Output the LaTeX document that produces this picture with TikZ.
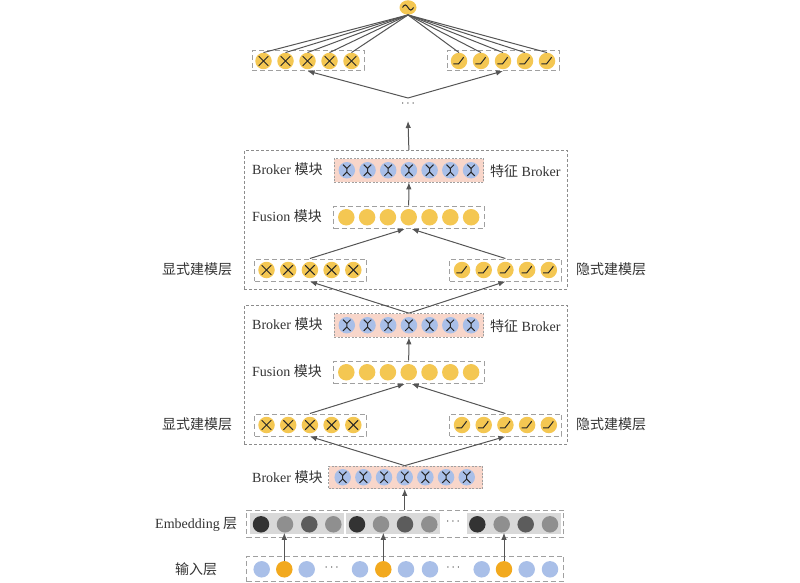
\documentclass[tikz,border=0pt]{standalone}
\usepackage{fontspec}
\setmainfont{Liberation Serif}
\newfontfamily\cjk{Noto Sans CJK SC}
\usetikzlibrary{arrows.meta,shapes.geometric}
\definecolor{cy}{HTML}{F4C752}
\definecolor{cb}{HTML}{A9BFE8}
\definecolor{co}{HTML}{F2A91E}
\definecolor{cp}{HTML}{F8D6CA}
\definecolor{cg}{HTML}{A0A0A0}
\definecolor{cgb}{HTML}{8C8C8C}
\definecolor{ca}{HTML}{555555}
\definecolor{ct}{HTML}{333333}
\definecolor{cl}{HTML}{D9D9D9}
\definecolor{ek}{HTML}{333333}
\definecolor{em}{HTML}{8F8F8F}
\definecolor{ed}{HTML}{5C5C5C}
\tikzset{
  circ/.style={circle, minimum size=16.5pt, inner sep=0pt, draw=none},
  yc/.style={circ, fill=cy},
  bc/.style={circ, fill=cb},
  oc/.style={circ, fill=co},
  rowbox/.style={draw=cg, dash pattern=on 5pt off 3pt, line width=1pt, inner sep=0pt},
  bigbox/.style={draw=cgb, dash pattern=on 3pt off 2pt, line width=0.8pt, inner sep=0pt},
  brokerbox/.style={fill=cp, draw=cg, dash pattern=on 2pt off 1.5pt, line width=0.7pt, inner sep=0pt},
  grp/.style={fill=cl, draw=none, inner sep=0pt, minimum width=94pt, minimum height=21pt},
  arr/.style={draw=ca, line width=1pt, -{Latex[length=7pt,width=5.5pt]}},
  ln/.style={draw=ca, line width=1pt},
  lbl/.style={font=\fontsize{14}{16}\selectfont, text=ct, inner sep=0pt, anchor=west},
  dotsn/.style={font=\fontsize{12}{14}\selectfont, text=ct, inner sep=0pt},
  ico/.style={line width=1pt, draw=black!85},
  xic/.style={path picture={
    \path (path picture bounding box.center) coordinate (pc);
    \draw[ico] (pc) ++(-4.8pt,-4.8pt) -- ++(9.6pt,9.6pt);
    \draw[ico] (pc) ++(-4.8pt,4.8pt) -- ++(9.6pt,-9.6pt);}},
  ric/.style={path picture={
    \path (path picture bounding box.center) coordinate (pc);
    \draw[ico] (pc) ++(-5.6pt,-2.8pt) -- ++(5.2pt,0pt) -- ++(4.4pt,5.6pt) -- ++(0.4pt,1.2pt);}},
  bic/.style={path picture={
    \path (path picture bounding box.center) coordinate (pc);
    \draw[ico] (pc) ++(-3.8pt,5.6pt) -- ++(3.8pt,-3.8pt) -- ++(0pt,-3.6pt) -- ++(-3.8pt,-3.8pt);
    \draw[ico] (pc) ++(3.8pt,5.6pt) -- ++(-3.8pt,-3.8pt);
    \draw[ico] (pc) ++(0pt,-1.8pt) -- ++(3.8pt,-3.8pt);}},
  sic/.style={path picture={
    \path (path picture bounding box.center) coordinate (pc);
    \draw[ico] (pc) ++(-5.5pt,0pt) sin ++(2.75pt,2.6pt) cos ++(2.75pt,-2.6pt) sin ++(2.75pt,-2.6pt) cos ++(2.75pt,2.6pt);}}
}
\begin{document}
\begin{tikzpicture}[x=1pt,y=-1pt]
\useasboundingbox (0,0) rectangle (800,583);

% ---------- top output ----------
\node[ellipse, fill=cy, minimum width=17pt, minimum height=14.5pt, inner sep=0pt, sic] (T) at (408,7.5) {};
\node[rowbox, minimum width=112pt, minimum height=19.5pt] (t-eb) at (308,60.75) {};
\node[rowbox, minimum width=112pt, minimum height=19.5pt] (t-ib) at (503,60.75) {};
\foreach \i in {1,...,5}{
  \node[yc,xic] (t-e\i) at ({263.5+(\i-1)*22},61) {};
  \node[yc,ric] (t-i\i) at ({459+(\i-1)*22},61) {};
}
\foreach \i in {1,...,5}{
  \draw[ln] (T.south) -- (t-e\i.north);
  \draw[ln] (T.south) -- (t-i\i.north);
}
\node[dotsn] (D) at (408,104) {$\cdots$};
\coordinate (dtop) at (408,98);
\coordinate (dbot) at (408,121);
\draw[arr] (dtop) -- (t-e3 |- t-eb.south);
\draw[arr] (dtop) -- (t-i3 |- t-ib.south);

% ---------- two modules ----------
\foreach \m/\dy in {U/-155,L/0}{
  \node[bigbox, minimum width=323pt, minimum height=138.5pt] (\m-box) at (405.5,{374.75+\dy}) {};
  \node[brokerbox, minimum width=149.5pt, minimum height=23.5pt] (\m-bb) at (408.75,{325.25+\dy}) {};
  \node[rowbox, minimum width=150.5pt, minimum height=22.5pt] (\m-fb) at (408.75,{372.25+\dy}) {};
  \node[rowbox, minimum width=112pt, minimum height=22pt] (\m-eb) at (310.5,{425+\dy}) {};
  \node[rowbox, minimum width=112pt, minimum height=22pt] (\m-ib) at (505.5,{425+\dy}) {};
  \foreach \i in {1,...,7}{
    \node[bc,bic] (\m-b\i) at ({346.8+(\i-1)*20.7},{325.25+\dy}) {};
    \node[yc] (\m-f\i) at ({346.3+(\i-1)*20.8},{372.25+\dy}) {};
  }
  \foreach \i in {1,...,5}{
    \node[yc,xic] (\m-e\i) at ({266.5+(\i-1)*21.7},{425+\dy}) {};
    \node[yc,ric] (\m-i\i) at ({462+(\i-1)*21.7},{425+\dy}) {};
  }
  \node[lbl] (\m-l1) at (252,{324+\dy}) {Broker {\cjk 模块}};
  \node[lbl] (\m-l2) at (252,{371+\dy}) {Fusion {\cjk 模块}};
  \node[lbl] (\m-l3) at (162,{424.5+\dy}) {\cjk 显式建模层};
  \node[lbl] (\m-l4) at (490,{326+\dy}) {{\cjk 特征} Broker};
  \node[lbl] (\m-l5) at (576,{424+\dy}) {\cjk 隐式建模层};
  \draw[arr] (\m-e3 |- \m-eb.north) -- ([xshift=-4pt]\m-f4.center |- \m-fb.south);
  \draw[arr] (\m-i3 |- \m-ib.north) -- ([xshift=3pt]\m-f4.center |- \m-fb.south);
  \draw[arr] (\m-f4 |- \m-fb.north) -- (\m-b4 |- \m-bb.south);
}
\draw[arr] (L-b4 |- L-bb.north) -- (U-e3 |- U-eb.south);
\draw[arr] (L-b4 |- L-bb.north) -- (U-i3 |- U-ib.south);
\draw[arr] (U-b4 |- U-box.north) -- (dbot);

% ---------- bottom broker ----------
\node[brokerbox, minimum width=154pt, minimum height=22.5pt] (B-bb) at (405.5,477.25) {};
\foreach \i in {1,...,7}{
  \node[bc,bic] (B-b\i) at ({342.7+(\i-1)*20.67},477.25) {};
}
\node[lbl] (B-l) at (252,477.5) {Broker {\cjk 模块}};
\draw[arr] (B-b4 |- B-bb.north) -- (L-e3 |- L-eb.south);
\draw[arr] (B-b4 |- B-bb.north) -- (L-i3 |- L-ib.south);

% ---------- embedding ----------
\node[rowbox, minimum width=316.6pt, minimum height=27.7pt] (E-box) at (405,523.85) {};
\node[grp] (E-g1) at (297,523.8) {};
\node[grp] (E-g2) at (393,523.8) {};
\node[grp] (E-g3) at (513.7,523.8) {};
\foreach \x/\c [count=\i] in {261/ek,285/em,309.3/ed,333.3/em,357/ek,381/em,405/ed,429.3/em,477.3/ek,501.7/em,525.7/ed,550/em}{
  \node[circ, fill=\c] (E-\i) at (\x,524.3) {};
}
\node[dotsn] (E-d) at (453,522) {$\cdots$};
\node[lbl] (E-l) at (155,524) {Embedding {\cjk 层}};
\draw[arr] (B-b4 |- E-box.north) -- (B-b4 |- B-bb.south);

% ---------- input ----------
\node[rowbox, minimum width=316.6pt, minimum height=25.7pt] (I-box) at (405,568.85) {};
\foreach \x/\s [count=\i] in {261.7/bc,284.3/oc,306.7/bc,360/bc,383.3/oc,406/bc,430/bc,481.7/bc,504/oc,526.7/bc,550/bc}{
  \node[\s] (I-\i) at (\x,569.3) {};
}
\node[dotsn] (I-d1) at (331.7,567.5) {$\cdots$};
\node[dotsn] (I-d2) at (453.3,567.5) {$\cdots$};
\node[lbl] (I-l) at (175,569.5) {\cjk 输入层};
\draw[arr] (I-2.north) -- (I-2 |- E-2.south);
\draw[arr] (I-5.north) -- (I-5 |- E-6.south);
\draw[arr] (I-9.north) -- (I-9 |- E-10.south);
\end{tikzpicture}
\end{document}
